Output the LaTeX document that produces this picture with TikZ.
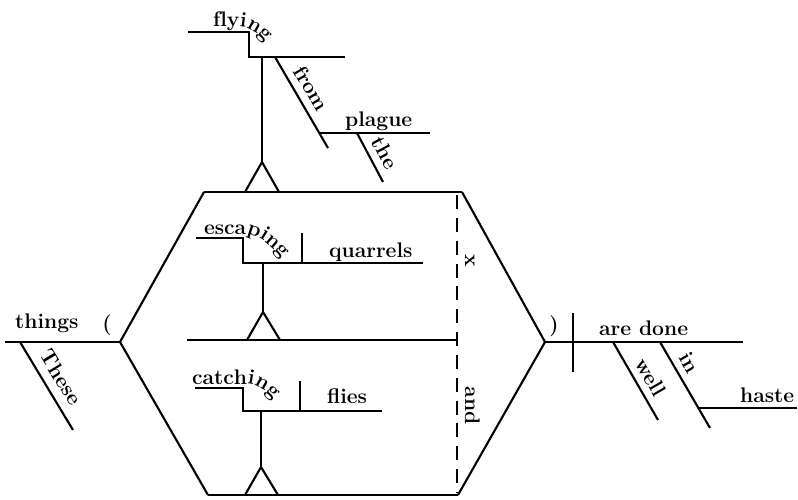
\documentclass[tikz,border=0pt]{standalone}
\usepackage{tikz}
\usetikzlibrary{positioning, decorations.text}

\newcommand\diagfont{\fontsize{12}{14}\selectfont\bfseries}

\begin{document}
\begin{tikzpicture}[
        x=0.02cm, y=-0.02cm,
        every node/.style={font=\diagfont, inner sep=1pt},
        line/.style={line width=1.2pt},
        dashline/.style={line width=1.2pt, dash pattern=on 8pt off 5pt},
        word/.style={anchor=base west},
        slant/.style={sloped, above, inner sep=4pt},
        gerund/.style={decorate, decoration={text along path, text align=left, text={|\diagfont|#1}}},
    ]
        \useasboundingbox (0,0) rectangle (798,500);

        % Coordinates
        \coordinate (subjstart) at (5,342);
        \coordinate (lfork) at (120,342);
        \coordinate (topl) at (204,192);
        \coordinate (topr) at (462,192);
        \coordinate (midl) at (187,340);
        \coordinate (midr) at (457,340);
        \coordinate (botl) at (208,495);
        \coordinate (botr) at (458,495);
        \coordinate (rfork) at (545,342);
        \coordinate (predend) at (743,342);
        \coordinate (dashtop) at (457,195);
        \coordinate (dashbot) at (457,492);

        % Subject and fork
        \draw[line] (subjstart) -- (lfork);
        \draw[line] (topl) -- (lfork) -- (botl);
        \draw[line] (topr) -- (rfork) -- (botr);
        \draw[line] (topl) -- (topr);
        \draw[line] (midl) -- (midr);
        \draw[line] (botl) -- (botr);
        \draw[dashline] (dashtop) -- node[slant, pos=0.22] {x} node[slant, pos=0.71] {and} (dashbot);
        \node (things) [word] at (13,328) {things};
        \node (lparen) at (107,325) {(};
        \draw[line] (20,342) -- node[slant, pos=0.5, inner sep=5pt] {These} (73,430);

        % Predicate
        \draw[line] (rfork) -- (predend);
        \draw[line] (573,313) -- (573,372);
        \node (rparen) at (554,326) {)};
        \node (aredone) [word] at (597,335) {are done};
        \draw[line] (613,342) -- node[slant, pos=0.55] {well} (658,420);
        \draw[line] (660,342) -- node[slant, pos=0.33] {in} (710,428);
        \draw[line] (698,408) -- (797,408);
        \node (haste) [word] at (738,402) {haste};

        % Flying
        \draw[line] (245,192) -- (262,162) -- (279,192);
        \draw[line] (262,162) -- (262,57);
        \draw[line] (188,32) -- (249,32) -- (249,57) -- (345,57);
        \path[gerund=flying] (213,27) -- (240,27) .. controls (250,27) and (262,34) .. (276,56);
        \draw[line] (275,57) -- node[slant, pos=0.43] {from} (328,148);
        \draw[line] (320,133) -- (430,133);
        \node (plague) [word] at (343,127) {plague};
        \draw[line] (357,133) -- node[slant, pos=0.55] {the} (383,182);

        % Escaping
        \draw[line] (247,340) -- (263,312) -- (280,340);
        \draw[line] (263,312) -- (263,263);
        \draw[line] (196,238) -- (243,238) -- (243,263) -- (423,263);
        \draw[line] (302,233) -- (302,263);
        \path[gerund=escaping] (204,234) -- (246,234) .. controls (256,235) and (270,242) .. (287,265);
        \node (quarrels) [word] at (327,257) {quarrels};

        % Catching
        \draw[line] (245,495) -- (261,467) -- (278,495);
        \draw[line] (261,467) -- (261,411);
        \draw[line] (195,388) -- (243,388) -- (243,411) -- (382,411);
        \draw[line] (300,381) -- (300,411);
        \path[gerund=catching] (192,384) -- (249,384) .. controls (258,385) and (270,392) .. (285,413);
        \node (flies) [word] at (325,403) {flies};

    \end{tikzpicture}
\end{document}
